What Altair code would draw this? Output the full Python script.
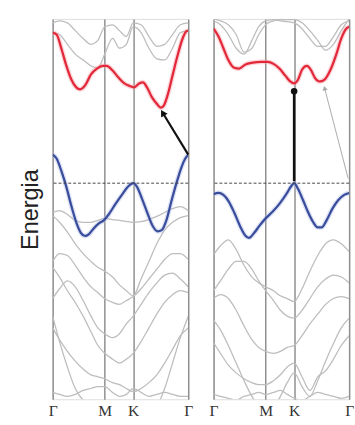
import altair as alt
import pandas as pd

# k-path positions (path units): Γ, M, K, Γ
K_TICKS = [0, 53, 82, 138]
K_NAMES = ["Γ", "M", "K", "Γ"]

# common k grid for the grey bands
KG = [0, 7, 15, 23, 31, 39, 46, 53, 61, 68, 75, 82, 90, 98, 106, 114, 122, 130, 138]

# ---------------- left panel ----------------
L_red_k = [0, 4, 9, 14, 19, 24, 28, 33, 39, 45, 51, 55, 61, 67, 73, 79, 83, 88, 92, 96, 101, 106, 110, 113, 117, 122, 127, 132, 136, 138]
L_red_E = [3.85, 3.80, 3.43, 3.00, 2.65, 2.45, 2.40, 2.50, 2.78, 2.93, 3.00, 3.00, 2.88, 2.70, 2.55, 2.48, 2.45, 2.55, 2.58, 2.45, 2.20, 2.03, 1.93, 1.98, 2.25, 2.75, 3.25, 3.68, 3.88, 3.90]
L_blue_k = [0, 4, 9, 14, 19, 24, 29, 33, 37, 42, 47, 52, 57, 64, 71, 77, 82, 86, 91, 97, 102, 107, 111, 116, 121, 126, 131, 135, 138]
L_blue_E = [0.73, 0.63, 0.30, -0.10, -0.58, -1.00, -1.28, -1.35, -1.30, -1.15, -1.03, -0.95, -0.80, -0.53, -0.28, -0.08, 0.00, -0.10, -0.40, -0.80, -1.10, -1.23, -1.20, -0.93, -0.45, 0.00, 0.40, 0.63, 0.73]
L_grey = {
    "u1": [3.85, 3.80, 3.55, 3.30, 3.15, 3.00, 2.95, 3.30, 3.70, 3.45, 3.55, 4.00, 3.85, 3.45, 3.18, 3.15, 3.45, 3.85, 3.90],
    "u2": [4.10, 4.15, 4.10, 3.90, 3.70, 3.55, 3.65, 4.00, 4.05, 3.90, 3.75, 4.10, 4.05, 3.75, 3.50, 3.55, 3.80, 4.05, 4.10],
    "b1": [-0.75, -0.70, -0.80, -0.95, -1.00, -1.00, -0.95, -0.90, -0.93, -0.95, -0.98, -1.00, -0.98, -0.93, -0.85, -0.75, -0.65, -0.60, -0.70],
    "g6": [-0.83, -1.00, -1.25, -1.55, -1.80, -2.00, -2.15, -2.25, -2.40, -2.60, -2.75, -2.88, -2.45, -2.00, -1.55, -1.20, -1.00, -0.88, -0.83],
    "g1": [-2.00, -1.80, -1.85, -2.10, -2.40, -2.65, -2.80, -2.95, -3.05, -3.10, -3.00, -2.90, -2.70, -2.45, -2.20, -1.95, -1.80, -1.80, -1.95],
    "g2": [-2.95, -2.70, -2.50, -2.65, -3.00, -3.40, -3.70, -3.85, -3.95, -3.85, -3.60, -3.40, -3.10, -2.80, -2.55, -2.35, -2.30, -2.45, -2.65],
    "g3": [-2.15, -2.40, -2.75, -3.05, -3.40, -3.80, -4.15, -4.35, -4.50, -4.60, -4.50, -4.35, -4.05, -3.70, -3.35, -3.05, -2.85, -2.75, -2.80],
    "g5": [-3.70, -4.00, -4.30, -4.55, -4.75, -4.90, -4.95, -5.00, -5.10, -5.15, -5.25, -5.33, -5.25, -5.10, -4.90, -4.60, -4.25, -3.90, -3.70],
    "g4": [-3.40, -4.05, -4.70, -5.25, -5.55, -5.70, -5.80, -5.85, -5.85, -5.80, -5.75, -5.70, -5.80, -5.85, -5.70, -5.25, -4.60, -3.95, -3.40],
    "g7": [-5.35, -5.40, -5.45, -5.40, -5.30, -5.25, -5.20, -5.20, -5.35, -5.45, -5.40, -5.25, -5.35, -5.45, -5.40, -5.35, -5.40, -5.45, -5.45],
}
# transition arrow (Γ valence -> conduction minimum)
L_arrow_k = [138, 112]
L_arrow_E = [0.73, 1.80]

# ---------------- right panel ----------------
R_red_k = [0, 5, 10, 15, 21, 26, 32, 40, 48, 55, 61, 67, 73, 78, 82, 86, 90, 95, 99, 103, 108, 113, 119, 125, 130, 135, 138]
R_red_E = [3.95, 3.75, 3.45, 3.15, 2.95, 2.93, 3.03, 3.08, 3.10, 3.10, 3.05, 2.93, 2.75, 2.60, 2.55, 2.65, 2.90, 3.00, 2.90, 2.70, 2.60, 2.65, 2.90, 3.30, 3.70, 3.95, 4.00]
R_blue_k = [0, 5, 10, 15, 21, 27, 32, 36, 41, 47, 53, 60, 67, 74, 79, 82, 86, 91, 96, 101, 106, 110, 115, 121, 127, 133, 138]
R_blue_E = [-0.28, -0.25, -0.30, -0.45, -0.75, -1.10, -1.33, -1.40, -1.28, -1.08, -0.90, -0.73, -0.53, -0.28, -0.08, 0.00, -0.15, -0.43, -0.73, -0.98, -1.13, -1.13, -0.95, -0.65, -0.43, -0.30, -0.25]
R_grey = {
    "t1": [4.15, 4.05, 3.80, 3.45, 3.30, 3.65, 4.00, 4.15, 4.18, 4.15, 4.13, 4.10, 3.95, 3.70, 3.50, 3.50, 3.75, 4.05, 4.15],
    "t2": [4.20, 4.15, 4.05, 3.80, 3.35, 3.45, 3.80, 4.05, 4.15, 4.18, 4.18, 4.18, 4.10, 3.90, 3.65, 3.40, 3.55, 3.90, 4.20],
    "r1": [-1.83, -1.60, -1.45, -1.70, -2.10, -2.40, -2.55, -2.65, -2.75, -2.88, -2.95, -3.03, -2.70, -2.25, -1.85, -1.55, -1.45, -1.55, -1.75],
    "r6": [-2.75, -2.50, -2.20, -2.00, -2.00, -2.20, -2.50, -2.75, -3.00, -3.25, -3.40, -3.45, -3.25, -2.95, -2.65, -2.45, -2.35, -2.40, -2.55],
    "r2": [-2.95, -2.85, -2.95, -3.25, -3.65, -4.00, -4.20, -4.30, -4.35, -4.30, -4.20, -4.15, -3.90, -3.60, -3.35, -3.10, -2.95, -2.90, -2.95],
    "r3": [-3.50, -3.75, -4.15, -4.60, -5.05, -5.45, -5.70, -5.80, -5.75, -5.45, -5.10, -4.85, -5.20, -5.45, -5.05, -4.55, -4.10, -3.70, -3.45],
    "r5": [-4.08, -4.35, -4.65, -4.85, -5.00, -5.10, -5.15, -5.15, -5.05, -4.90, -4.70, -4.60, -4.95, -5.30, -4.95, -4.80, -4.50, -4.15, -3.90],
    "r7": [-5.40, -5.45, -5.50, -5.55, -5.45, -5.40, -5.35, -5.40, -5.35, -5.30, -5.40, -5.50, -5.55, -5.45, -5.35, -5.40, -5.45, -5.50, -5.45],
}
R_arrow_k = [82, 82]
R_arrow_E = [0.05, 2.35]
R_thin_k = [137, 113]
R_thin_E = [0.12, 2.43]

E_DOMAIN = [-5.525, 4.2]
W, H = 139, 390

RED = "#e3283a"
BLUE = "#3a4d9c"
GREY = "#bdbdbd"
FRAME = "#8e8e8e"

label_expr = "datum.value == 53 ? 'M' : datum.value == 82 ? 'K' : 'Γ'"


def xenc():
    return alt.X(
        "k:Q",
        scale=alt.Scale(domain=[0, 138], nice=False, zero=False),
        axis=alt.Axis(values=K_TICKS, labelExpr=label_expr, title=None, grid=True,
                      gridColor=FRAME, gridWidth=1.5, gridOpacity=1, domain=False, ticks=False,
                      labelFont="Liberation Serif", labelFontSize=16, labelColor="#333",
                      labelPadding=4, labelFlush=False, labelOverlap=False),
    )


def yenc(left):
    if left:
        ax = alt.Axis(title="Energia", labels=False, ticks=False, domain=False, grid=False,
                      titleFont="Liberation Sans", titleFontSize=24, titleFontWeight="normal",
                      titleColor="#222", titlePadding=11)
    else:
        ax = None
    return alt.Y("E:Q", scale=alt.Scale(domain=E_DOMAIN, nice=False, zero=False), axis=ax)


def panel(left, red_k, red_E, blue_k, blue_E, greys, arrows):
    g_rows = []
    for name, vals in greys.items():
        for k, e in zip(KG, vals):
            g_rows.append({"band": name, "k": k, "E": e})
    gdf = pd.DataFrame(g_rows)
    rdf = pd.DataFrame({"k": red_k, "E": red_E})
    bdf = pd.DataFrame({"k": blue_k, "E": blue_E})
    fermi = pd.DataFrame({"E": [0.0]})

    base_x = xenc()
    base_y = yenc(left)

    grey = alt.Chart(gdf).mark_line(color=GREY, strokeWidth=1.3, interpolate="monotone", clip=True).encode(
        x=base_x, y=base_y, detail="band:N")
    red_halo = alt.Chart(rdf).mark_line(color="#f4a6ae", strokeWidth=5, opacity=0.45, interpolate="monotone", clip=True).encode(
        x="k:Q", y="E:Q")
    red = alt.Chart(rdf).mark_line(color=RED, strokeWidth=2.3, interpolate="monotone", clip=True).encode(
        x="k:Q", y="E:Q")
    blue_halo = alt.Chart(bdf).mark_line(color="#b5c0e6", strokeWidth=5, opacity=0.45, interpolate="monotone", clip=True).encode(
        x="k:Q", y="E:Q")
    blue = alt.Chart(bdf).mark_line(color=BLUE, strokeWidth=2.3, interpolate="monotone", clip=True).encode(
        x="k:Q", y="E:Q")
    rule = alt.Chart(fermi).mark_rule(color="#444", strokeWidth=1, strokeDash=[3, 2]).encode(y="E:Q")

    layers = [grey, red_halo, red, blue_halo, blue, rule]
    for a in arrows:
        adf = pd.DataFrame({"k": a["k"], "E": a["E"]})
        layers.append(alt.Chart(adf).mark_line(color=a["color"], strokeWidth=a["width"]).encode(x="k:Q", y="E:Q"))
        tip = pd.DataFrame({"k": [a["k"][1]], "E": [a["E"][1]]})
        if a["head"] == "dot":
            layers.append(alt.Chart(tip).mark_point(shape="circle", filled=True, size=45, color=a["color"], opacity=1).encode(x="k:Q", y="E:Q"))
        else:
            layers.append(alt.Chart(tip).mark_point(shape="triangle-up", filled=True, size=a["size"], color=a["color"],
                                                    opacity=1, angle=a["angle"]).encode(x="k:Q", y="E:Q"))
    return alt.layer(*layers).properties(width=W, height=H)


left = panel(True, L_red_k, L_red_E, L_blue_k, L_blue_E, L_grey,
             [{"k": L_arrow_k, "E": L_arrow_E, "color": "#111", "width": 2.2, "head": "tri", "angle": 329, "size": 60}])
right = panel(False, R_red_k, R_red_E, R_blue_k, R_blue_E, R_grey,
              [{"k": R_arrow_k, "E": R_arrow_E, "color": "#111", "width": 2.6, "head": "dot"},
               {"k": R_thin_k, "E": R_thin_E, "color": "#aaa", "width": 1, "head": "tri", "angle": 346, "size": 30}])

chart = alt.hconcat(left, right, spacing=26, bounds="flush").properties(
    padding={"left": 18, "top": 13, "right": 0, "bottom": 0}
).configure_view(stroke=FRAME, strokeWidth=1.5).configure(background="white")

chart.save("out.html", embed_options={"renderer": "svg", "actions": False})
